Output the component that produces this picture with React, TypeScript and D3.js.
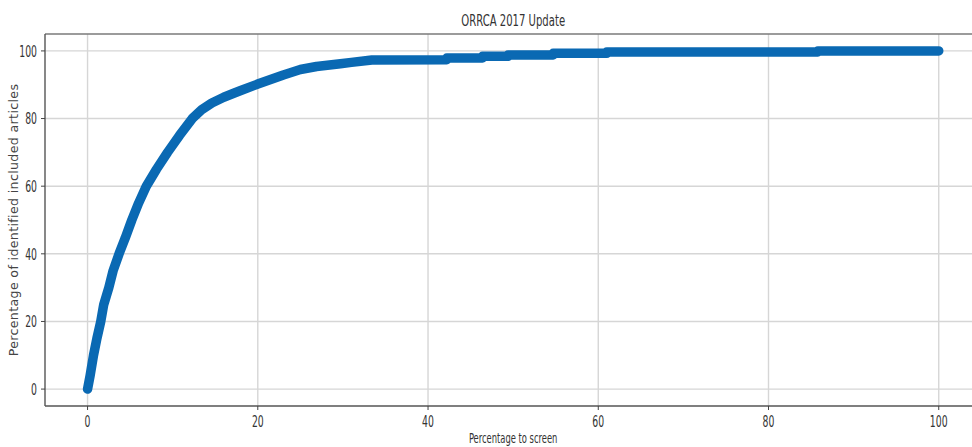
import React from "react";
import * as d3 from "d3";

const xVals = [0, 0.3, 0.7, 1.1, 1.55, 1.9, 2.2, 2.5, 3.0, 3.7, 4.4, 5.2, 6.0, 6.9, 8.1, 9.4, 10.8, 12.3, 13.4, 14.6, 16.0, 17.1, 18.0, 20.0, 23.0, 25.0, 26.9, 29.7, 31.0, 33.4, 42.2, 42.2, 46.4, 46.4, 49.4, 49.4, 54.7, 54.7, 61.0, 61.0, 85.8, 85.8, 100];
const yVals = [0, 4, 10, 15, 20, 25, 27.5, 30, 35, 40, 44.5, 50, 55, 60, 65, 70, 75, 80, 82.6, 84.6, 86.3, 87.4, 88.3, 90.2, 92.9, 94.5, 95.4, 96.2, 96.6, 97.3, 97.4, 97.9, 97.9, 98.4, 98.4, 98.8, 98.8, 99.3, 99.3, 99.7, 99.7, 100, 100];
const xTicks = [0, 20, 40, 60, 80, 100];
const yTicks = [0, 20, 40, 60, 80, 100];
const title = "ORRCA 2017 Update";
const xLabel = "Percentage to screen";
const yLabel = "Percentage of identified included articles";

const W = 972;
const H = 447;

export default function App() {
  const x = d3.scaleLinear().domain([-5, 105]).range([45, 981.3]);
  const y = d3.scaleLinear().domain([-5, 105]).range([406, 34]);
  const pts = xVals.map((v, i) => [v, yVals[i]] as [number, number]);
  const line = d3
    .line<[number, number]>()
    .x((d) => x(d[0]))
    .y((d) => y(d[1]));
  const font = "DejaVu Sans";
  const left = x.range()[0];
  const right = x.range()[1];
  const top = y.range()[1];
  const bottom = y.range()[0];
  const cx = (left + right) / 2;
  return (
    <svg
      width={W}
      height={H}
      style={{ position: "absolute", left: 0, top: 0, background: "#fff" }}
    >
      <rect x={0} y={0} width={W} height={H} fill="#fff" />
      {/* grid */}
      {xTicks.map((t) => (
        <line key={"gx" + t} x1={x(t)} x2={x(t)} y1={top} y2={bottom} stroke="#d6d6d6" strokeWidth={1.4} />
      ))}
      {yTicks.map((t) => (
        <line key={"gy" + t} x1={left} x2={right} y1={y(t)} y2={y(t)} stroke="#d6d6d6" strokeWidth={1.4} />
      ))}
      {/* data */}
      <path
        d={line(pts) || ""}
        fill="none"
        stroke="#0a69b3"
        strokeWidth={9.5}
        strokeLinecap="round"
        strokeLinejoin="round"
      />
      {/* spines */}
      <line x1={left} x2={right} y1={top} y2={top} stroke="#7a7a7a" strokeWidth={1.6} />
      <line x1={left} x2={right} y1={bottom} y2={bottom} stroke="#555" strokeWidth={1.4} />
      <line x1={left} x2={left} y1={top} y2={bottom} stroke="#555" strokeWidth={1.4} />
      <line x1={right} x2={right} y1={top} y2={bottom} stroke="#555" strokeWidth={1.4} />
      {/* x ticks */}
      {xTicks.map((t) => (
        <g key={"xt" + t}>
          <line x1={x(t)} x2={x(t)} y1={bottom} y2={bottom + 4} stroke="#444" strokeWidth={1} />
          <text
            transform={`translate(${x(t)},${bottom + 21}) scale(0.6,1)`}
            textAnchor="middle"
            fontFamily={font}
            fontSize={15.5}
            fill="#333"
          >
            {t}
          </text>
        </g>
      ))}
      {/* y ticks */}
      {yTicks.map((t) => (
        <g key={"yt" + t}>
          <line x1={left - 4} x2={left} y1={y(t)} y2={y(t)} stroke="#444" strokeWidth={1} />
          <text
            transform={`translate(${left - 8},${y(t) + 5.7}) scale(0.6,1)`}
            textAnchor="end"
            fontFamily={font}
            fontSize={15.5}
            fill="#333"
          >
            {t}
          </text>
        </g>
      ))}
      {/* title */}
      <text
        transform={`translate(${cx},25.5) scale(0.63,1)`}
        textAnchor="middle"
        fontFamily={font}
        fontSize={16}
        fill="#333"
      >
        {title}
      </text>
      {/* x label */}
      <text
        transform={`translate(${cx},443) scale(0.62,1)`}
        textAnchor="middle"
        fontFamily={font}
        fontSize={13.5}
        fill="#333"
      >
        {xLabel}
      </text>
      {/* y label */}
      <text
        transform={`translate(17.5,${(top + bottom) / 2}) rotate(-90)`}
        textAnchor="middle"
        fontFamily={font}
        fontSize={12.6}
        letterSpacing={0.35}
        fill="#444"
      >
        {yLabel}
      </text>
    </svg>
  );
}
